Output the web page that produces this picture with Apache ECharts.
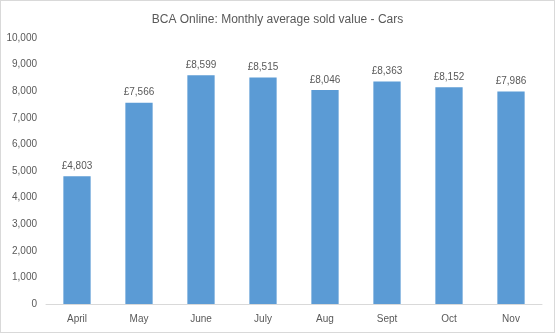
<!DOCTYPE html>
<html><head><meta charset="utf-8">
<script src="https://cdn.jsdelivr.net/npm/echarts@6/dist/echarts.min.js"></script>
<style>html,body{margin:0;padding:0;background:#fff}#c{width:553px;height:331px;border:1px solid #d9d9d9}</style>
</head><body><div id="c"></div>
<script>
const categories = ['April','May','June','July','Aug','Sept','Oct','Nov'];
const values = [4803, 7566, 8599, 8515, 8046, 8363, 8152, 7986];
const chart = echarts.init(document.getElementById('c'));
const font = 'Liberation Sans, Arial, sans-serif';
chart.setOption({
  animation: false,
  title: {text: 'BCA Online: Monthly average sold value - Cars', left: 'center', top: 8,
    textStyle: {fontFamily: font, fontSize: 12, fontWeight: 'normal', color: '#595959'}},
  grid: {left: 45, right: 12, top: 37, bottom: 28},
  xAxis: {type: 'category', data: categories,
    axisLine: {lineStyle: {color: '#d9d9d9'}}, axisTick: {show: false},
    axisLabel: {fontFamily: font, fontSize: 10, color: '#595959', margin: 10}},
  yAxis: {type: 'value', min: 0, max: 10000, interval: 1000,
    splitLine: {show: false}, axisLine: {show: false}, axisTick: {show: false},
    axisLabel: {fontFamily: font, fontSize: 10, color: '#595959', margin: 9,
      formatter: v => v.toLocaleString('en-US')}},
  series: [{type: 'bar', data: values, barCategoryGap: '56%',
    itemStyle: {color: '#5B9BD5'},
    label: {show: true, position: 'top', distance: 5, fontFamily: font, fontSize: 10, color: '#595959',
      formatter: p => '£' + p.value.toLocaleString('en-US')}}]
});
</script></body></html>
